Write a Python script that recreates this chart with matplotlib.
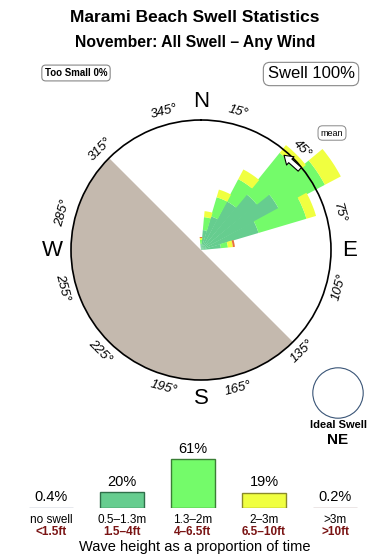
import numpy as np
import matplotlib
matplotlib.use('Agg')
import matplotlib.pyplot as plt

plt.rcParams['font.family'] = ['Liberation Sans', 'DejaVu Sans']

# swell rose: direction bins (deg) and % of time per height band
directions = [0, 11.25, 22.5, 33.75, 45, 56.25, 67.5, 78.75]
band_05_13 = [0.6, 2.0, 3.5, 5.5, 7.2, 8.8, 6.0, 2.0]
band_13_2 = [0.4, 1.3, 2.0, 2.5, 5.3, 5.2, 5.0, 0.7]
band_2_3 = [0.2, 0.6, 0.8, 1.1, 1.0, 1.8, 1.0, 0.5]
band_3p = [0.1, 0.0, 0.0, 0.0, 0.0, 0.0, 0.0, 0.2]
band_colors = ['#66CD8F', '#74FB6A', '#F0FF40', '#E8703A']
ring = 13.0
tick_angles = [15, 45, 75, 105, 135, 165, 195, 225, 255, 285, 315, 345]
land_from, land_to = 135, 315
mean_dir = 45

# bottom histogram
height_cats = ['no swell', '0.5\u20131.3m', '1.3\u20132m', '2\u20133m', '>3m']
height_ft = ['<1.5ft', '1.5\u20134ft', '4\u20136.5ft', '6.5\u201310ft', '>10ft']
height_pct = [0.4, 20, 61, 19, 0.2]
height_labels = ['0.4%', '20%', '61%', '19%', '0.2%']
hist_colors = ['#AEB4CC', '#66CD8F', '#74FB6A', '#F0FF40', '#C8A8A8']
hist_edges = ['#8890AA', '#2F6F4A', '#3A7F35', '#8A8A2A', '#A08080']

W, H = 390, 560
fig = plt.figure(figsize=(W / 100, H / 100), dpi=100)

def fx(x):
    return x / W

def fy(y):
    return 1 - y / H

fig.text(fx(195), fy(18), 'Marami Beach Swell Statistics', ha='center', va='center',
         fontsize=12.5, fontweight='bold')
fig.text(fx(195), fy(43), 'November: All Swell \u2013 Any Wind', ha='center', va='center',
         fontsize=11.3, fontweight='bold')
fig.text(fx(76), fy(73), 'Too Small 0%', ha='center', va='center', fontsize=7,
         fontweight='bold',
         bbox=dict(boxstyle='round,pad=0.3,rounding_size=0.4', fc='white', ec='#888888', lw=0.8))
fig.text(fx(311), fy(74), 'Swell 100%', ha='center', va='center', fontsize=12,
         bbox=dict(boxstyle='round,pad=0.25,rounding_size=0.4', fc='white', ec='#888888', lw=0.8))

# rose
cx, cy, rad = 201, 250, 130
ax = fig.add_axes([fx(cx - rad), fy(cy + rad), 2 * rad / W, 2 * rad / H], projection='polar')
ax.set_theta_zero_location('N')
ax.set_theta_direction(-1)
ax.set_ylim(0, ring)
ax.grid(False)
ax.set_yticks([])
ax.set_xticks(np.radians(tick_angles))
ax.set_xticklabels([])
ax.tick_params(axis='x', direction='in', length=4, width=0.8, pad=0)
ax.spines['polar'].set_linewidth(1.2)

land_mid = np.radians((land_from + land_to) / 2)
ax.bar(land_mid, ring, width=np.radians(land_to - land_from), bottom=0,
       color='#C4B9AE', linewidth=0, zorder=0.5)

theta = np.radians(directions)
width = np.radians(12)
bottom = np.zeros(len(directions))
for vals, col in zip([band_05_13, band_13_2, band_2_3, band_3p], band_colors):
    ax.bar(theta, vals, width=width, bottom=bottom, color=col, linewidth=0,
           clip_on=False, zorder=1)
    bottom = bottom + np.array(vals)

# mean arrow
ax.annotate('', xy=(np.radians(mean_dir - 5), 12.6), xytext=(np.radians(mean_dir + 7), 12.8),
            xycoords='data', textcoords='data', annotation_clip=False,
            arrowprops=dict(arrowstyle='simple,head_width=0.8,head_length=0.6,tail_width=0.35',
                            fc='white', ec='black', lw=0.8), zorder=4)
fig.text(fx(332), fy(133), 'mean', ha='center', va='center', fontsize=6.5,
         bbox=dict(boxstyle='round,pad=0.3,rounding_size=0.5', fc='white', ec='#888888', lw=0.7))

for a in tick_angles:
    rot = -a
    if 90 < a < 270:
        rot += 180
    ax.text(np.radians(a), ring * 1.1, f'{a}\u00b0', rotation=rot, rotation_mode='anchor',
            ha='center', va='center', fontsize=9.5, style='italic', clip_on=False)

for lab, a in zip(['N', 'E', 'S', 'W'], [0, 90, 180, 270]):
    ax.text(np.radians(a), ring * 1.14, lab, ha='center', va='center', fontsize=16,
            clip_on=False)

# ideal swell
ax2 = fig.add_axes([fx(310), fy(421), 56 / W, 56 / H])
ax2.add_patch(plt.Circle((0.5, 0.5), 0.45, fc='white', ec='#3A5577', lw=0.8))
ax2.set_xlim(0, 1)
ax2.set_ylim(0, 1)
ax2.axis('off')
fig.text(fx(338), fy(425), 'Ideal Swell', ha='center', va='center', fontsize=8, fontweight='bold')
fig.text(fx(338), fy(440), 'NE', ha='center', va='center', fontsize=11, fontweight='bold')

# histogram
bx = fig.add_axes([fx(15.5), fy(508), 355 / W, 60 / H])
pos = np.arange(len(height_cats))
bx.bar(pos, height_pct, width=0.63, color=hist_colors, edgecolor=hist_edges, linewidth=1)
bx.set_xlim(-0.5, 4.5)
bx.set_ylim(0, 75)
bx.axis('off')
for i in range(len(pos)):
    bx.annotate(height_labels[i], (pos[i], height_pct[i]), xytext=(0, 2.5),
                textcoords='offset points', ha='center', va='bottom', fontsize=10.5)
    bx.annotate(height_cats[i], (pos[i], 0), xytext=(0, -8.5), textcoords='offset points',
                ha='center', va='center', fontsize=8.5)
    bx.annotate(height_ft[i], (pos[i], 0), xytext=(0, -17), textcoords='offset points',
                ha='center', va='center', fontsize=8.5, fontweight='bold', color='#7A1414')
fig.text(fx(195), fy(547), 'Wave height as a proportion of time', ha='center', va='center',
         fontsize=10.5)

fig.savefig('out.png', dpi=100)
